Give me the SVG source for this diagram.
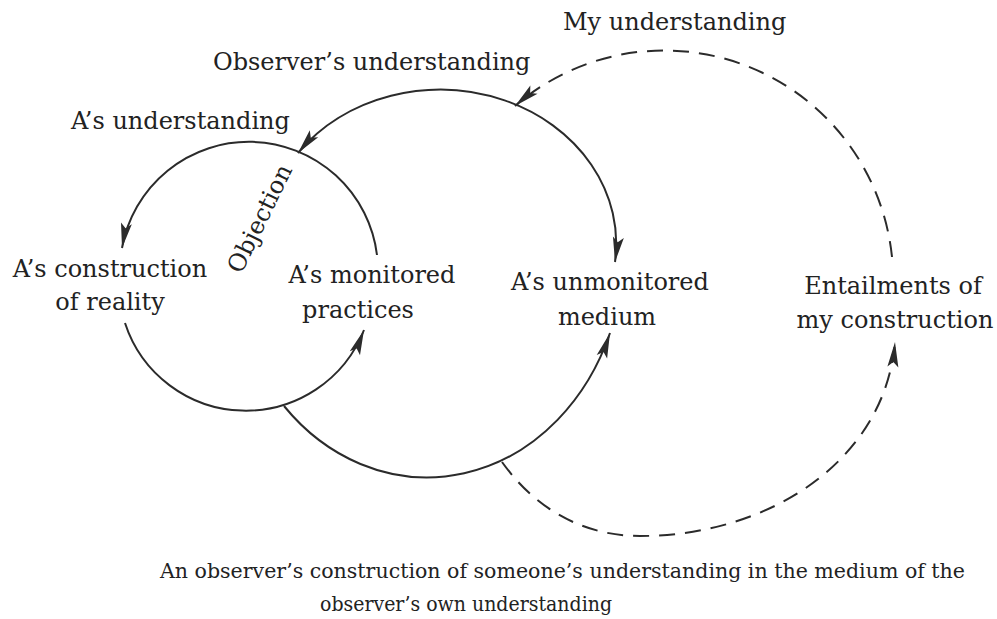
<svg xmlns="http://www.w3.org/2000/svg" width="997" height="619" viewBox="0 0 997 619">
<defs>
<marker id="ah" viewBox="-26 -7 27 14" refX="0" refY="0" markerWidth="27" markerHeight="14" markerUnits="userSpaceOnUse" orient="auto-start-reverse">
<path d="M0,0 L-25,-5.5 L-20,0 L-25,5.5 Z" fill="#2b2b2b" stroke="none"/>
</marker>
<style>
.ln{fill:none;stroke:#2b2b2b;stroke-width:2}
.ds{stroke-dasharray:16 10}
.t{font-family:"DejaVu Serif","Liberation Serif",serif;font-size:24px;fill:#222}
.c{font-family:"DejaVu Serif","Liberation Serif",serif;font-size:21px;fill:#222}
</style>
</defs>
<rect width="997" height="619" fill="#fff"/>
<g id="connectors">
<path class="ln" d="M377,255 A129,129 0 0 0 122,248" marker-end="url(#ah)"/>
<path class="ln" d="M125,323 A127,127 0 0 0 364,330" marker-end="url(#ah)"/>
<path class="ln" d="M298,153 A176,154 0 0 1 615,262" marker-start="url(#ah)" marker-end="url(#ah)"/>
<path class="ln" d="M284,406 A197,229 0 0 0 610,333" marker-end="url(#ah)"/>
<path class="ln ds" d="M892,257 A229,230 0 0 0 515,106" marker-end="url(#ah)"/>
<path class="ln ds" d="M502,462 C540,515 590,536 640,536 C770,536 885,460 895,342" marker-end="url(#ah)"/>
</g>
<g id="my-understanding"><text class="t" x="563" y="30">My understanding</text></g>
<g id="observers-understanding"><text class="t" x="213" y="70">Observer’s understanding</text></g>
<g id="as-understanding"><text class="t" x="71" y="129">A’s understanding</text></g>
<g id="objection"><text class="t" text-anchor="middle" transform="translate(267,222) rotate(-64)">Objection</text></g>
<g id="construction-of-reality"><text class="t" text-anchor="middle" x="110" y="277">A’s construction</text><text class="t" text-anchor="middle" x="110" y="310">of reality</text></g>
<g id="monitored-practices"><text class="t" text-anchor="middle" x="372" y="283">A’s monitored</text><text class="t" text-anchor="middle" x="358" y="318">practices</text></g>
<g id="unmonitored-medium"><text class="t" text-anchor="middle" x="610" y="290">A’s unmonitored</text><text class="t" text-anchor="middle" x="607" y="325">medium</text></g>
<g id="entailments"><text class="t" text-anchor="middle" x="893" y="294">Entailments of</text><text class="t" text-anchor="middle" x="895" y="328">my construction</text></g>
<g id="caption"><text class="c" x="160" y="578" textLength="805" lengthAdjust="spacingAndGlyphs">An observer’s construction of someone’s understanding in the medium of the</text><text class="c" x="320" y="611" textLength="292" lengthAdjust="spacingAndGlyphs">observer’s own understanding</text></g>
</svg>
